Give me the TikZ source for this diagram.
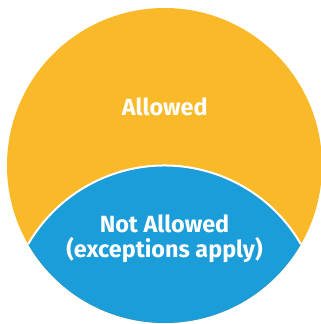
\documentclass[tikz,border=0pt]{standalone}
\usepackage{fontspec}
\setmainfont{Fira Sans}
\definecolor{allowedc}{HTML}{F9B928}
\definecolor{notallowedc}{HTML}{1B9DD9}
\begin{document}
\begin{tikzpicture}[x=1pt,y=1pt,
  lbl/.style={text=white,font=\fontsize{23.4}{25}\selectfont\bfseries,inner sep=0pt,anchor=base}]
\fill[white] (0,0) rectangle (321,324);
\useasboundingbox (0,0) rectangle (321,324);
\coordinate (c1) at (164.5,158.5);
\coordinate (c2) at (164.5,1);
\fill[allowedc] (c1) circle (157.5);
\begin{scope}
  \clip (c1) circle (157.5);
  \fill[notallowedc] (c2) circle (157.5);
\end{scope}
\draw[white,line width=2pt] ([shift={(30:157.5)}]c2) arc (30:150:157.5);
\node[lbl] (allowed) at (164.8,208) {Allowed};
\node[lbl] (notallowed) at (164.5,91.3) {Not Allowed};
\node[lbl] (exceptions) at (164.5,66.3) {(exceptions apply)};
\end{tikzpicture}
\end{document}
